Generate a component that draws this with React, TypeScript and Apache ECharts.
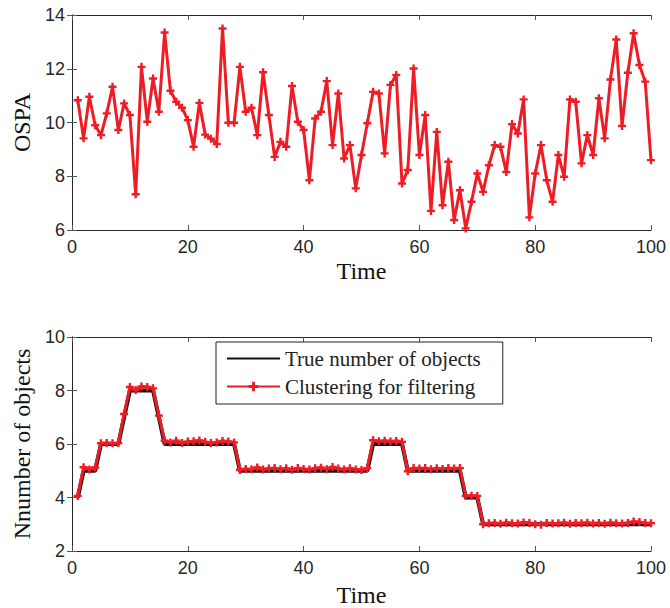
import React, { useEffect, useRef } from 'react';
import * as echarts from 'echarts';

// OSPA per time step (t = 1..100)
const ospa = [
  10.83, 9.41, 10.96, 9.9, 9.53, 10.34, 11.33, 9.72, 10.71, 10.28,
  7.33, 12.07, 10.03, 11.64, 10.4, 13.35, 11.18, 10.77, 10.55, 10.09,
  9.1, 10.73, 9.55, 9.4, 9.2, 13.5, 9.99, 9.99, 12.07, 10.4,
  10.55, 9.53, 11.87, 10.28, 8.72, 9.28, 9.1, 11.36, 10.03, 9.72,
  7.85, 10.15, 10.4, 11.54, 9.16, 11.08, 8.66, 9.16, 7.55, 8.79,
  9.97, 11.14, 11.08, 8.85, 11.4, 11.77, 7.73, 8.23, 12.01, 8.79,
  10.28, 6.71, 9.65, 6.92, 8.54, 6.37, 7.48, 6.06, 7.05, 8.1,
  7.42, 8.41, 9.16, 9.1, 8.16, 9.94, 9.59, 10.86, 6.47, 8.1,
  9.16, 7.85, 7.05, 8.79, 7.98, 10.86, 10.77, 8.48, 9.53, 8.79,
  10.9, 9.41, 11.6, 13.09, 9.87, 11.85, 13.32, 12.14, 11.52, 8.6,
];

// True number of objects (t = 1..100)
const trueCount = [
  4, 5, 5, 5, 6, 6, 6, 6, 7, 8,
  8, 8, 8, 8, 7, 6, 6, 6, 6, 6,
  6, 6, 6, 6, 6, 6, 6, 6, 5, 5,
  5, 5, 5, 5, 5, 5, 5, 5, 5, 5,
  5, 5, 5, 5, 5, 5, 5, 5, 5, 5,
  5, 6, 6, 6, 6, 6, 6, 5, 5, 5,
  5, 5, 5, 5, 5, 5, 5, 4, 4, 4,
  3, 3, 3, 3, 3, 3, 3, 3, 3, 3,
  3, 3, 3, 3, 3, 3, 3, 3, 3, 3,
  3, 3, 3, 3, 3, 3, 3, 3, 3, 3,
];

// Estimated number of objects by clustering for filtering (t = 1..100)
const estCount = [
  4.06, 5.13, 5.05, 5.12, 6.03, 6.04, 6.03, 6.04, 7.12, 8.13,
  8.02, 8.15, 8.13, 8.08, 7.06, 6.12, 6.06, 6.12, 6.04, 6.09,
  6.1, 6.13, 6.08, 6.04, 6.06, 6.11, 6.09, 6.06, 5.03, 5.07,
  5.06, 5.12, 5.05, 5.08, 5.1, 5.06, 5.09, 5.04, 5.1, 5.07,
  5.05, 5.09, 5.11, 5.06, 5.14, 5.08, 5.05, 5.09, 5.05, 5.03,
  5.1, 6.14, 6.1, 6.12, 6.09, 6.11, 6.08, 4.98, 5.1, 5.08,
  5.1, 5.06, 5.09, 5.07, 5.1, 5.08, 5.1, 4.06, 4.07, 4.06,
  3.0, 3.04, 3.05, 3.02, 3.06, 3.04, 3.03, 3.07, 3.05, 3.0,
  2.98, 3.05, 3.03, 3.04, 3.06, 3.02, 3.05, 3.04, 3.06, 3.03,
  3.05, 3.02, 3.06, 3.04, 3.03, 3.05, 3.1, 3.08, 3.05, 3.04,
];

const seriesNames = ['True number of objects', 'Clustering for filtering'];
const xTitle = 'Time';
const yTitleTop = 'OSPA';
const yTitleBottom = 'Nnumber of objects';

const RED = '#ee1d25';
const SANS = 'Liberation Sans';
const SERIF = 'Liberation Serif';
const PLUS = 'path://M3.5,0H6.5V3.5H10V6.5H6.5V10H3.5V6.5H0V3.5H3.5Z';

const toPoints = (arr: number[]) => arr.map((v, i) => [i + 1, v]);

export default function App() {
  const ref = useRef<HTMLDivElement>(null);

  useEffect(() => {
    if (!ref.current) return;
    const chart = echarts.init(ref.current, null, { renderer: 'svg' });

    const axisLine = { show: true, lineStyle: { color: '#262626', width: 1 } };
    const tick = { show: true, inside: true, length: 5, lineStyle: { color: '#555' } };
    const label = { color: '#262626', fontFamily: SANS, fontSize: 18 };
    const nameStyle = { color: '#111', fontFamily: SERIF, fontSize: 24 };

    const mainX = (grid: number, gap: number) => ({
      type: 'value', gridIndex: grid, min: 0, max: 100, interval: 20, position: 'bottom',
      axisLine, axisTick: tick, splitLine: { show: false },
      axisLabel: { ...label, margin: 8 },
      name: xTitle, nameLocation: 'middle', nameGap: gap, nameTextStyle: nameStyle,
    });
    const topX = (grid: number) => ({
      type: 'value', gridIndex: grid, min: 0, max: 100, interval: 20, position: 'top',
      axisLine, axisTick: tick, splitLine: { show: false }, axisLabel: { show: false },
    });
    const mainY = (grid: number, min: number, max: number, name: string) => ({
      type: 'value', gridIndex: grid, min, max, interval: 2, position: 'left',
      axisLine, axisTick: tick, splitLine: { show: false },
      axisLabel: { ...label, margin: 7 },
      name, nameLocation: 'middle', nameGap: 38, nameTextStyle: nameStyle,
    });
    const rightY = (grid: number, min: number, max: number) => ({
      type: 'value', gridIndex: grid, min, max, interval: 2, position: 'right',
      axisLine, axisTick: tick, splitLine: { show: false }, axisLabel: { show: false },
    });

    chart.setOption({
      animation: false,
      backgroundColor: '#fff',
      grid: [
        { left: 72, right: 19, top: 15, height: 215 },
        { left: 72, right: 19, top: 337, height: 215 },
      ],
      xAxis: [mainX(0, 29), topX(0), mainX(1, 32), topX(1)],
      yAxis: [
        mainY(0, 6, 14, yTitleTop), rightY(0, 6, 14),
        mainY(1, 2, 10, yTitleBottom), rightY(1, 2, 10),
      ],
      legend: {
        data: [
          { name: seriesNames[0], itemStyle: { opacity: 0 } },
          { name: seriesNames[1] },
        ],
        orient: 'vertical',
        left: 216,
        top: 342,
        itemWidth: 53,
        itemHeight: 12,
        itemGap: 7,
        padding: [6, 22, 7, 10],
        borderColor: '#222',
        borderWidth: 1,
        backgroundColor: '#fff',
        textStyle: { fontFamily: SERIF, fontSize: 21, color: '#222' },
      },
      series: [
        {
          name: 'OSPA', type: 'line', xAxisIndex: 0, yAxisIndex: 0,
          data: toPoints(ospa),
          symbol: PLUS, symbolSize: 8, showAllSymbol: true,
          lineStyle: { color: RED, width: 3 },
          itemStyle: { color: RED },
        },
        {
          name: seriesNames[0], type: 'line', xAxisIndex: 2, yAxisIndex: 2,
          data: toPoints(trueCount),
          symbol: 'none',
          lineStyle: { color: '#111', width: 4 },
          itemStyle: { color: '#111' },
        },
        {
          name: seriesNames[1], type: 'line', xAxisIndex: 2, yAxisIndex: 2,
          data: toPoints(estCount),
          symbol: PLUS, symbolSize: 8, showAllSymbol: true,
          lineStyle: { color: RED, width: 3 },
          itemStyle: { color: RED },
        },
      ],
    });

    return () => chart.dispose();
  }, []);

  return (
    <div
      ref={ref}
      style={{ position: 'fixed', left: 0, top: 0, width: 670, height: 608, background: '#fff' }}
    />
  );
}
